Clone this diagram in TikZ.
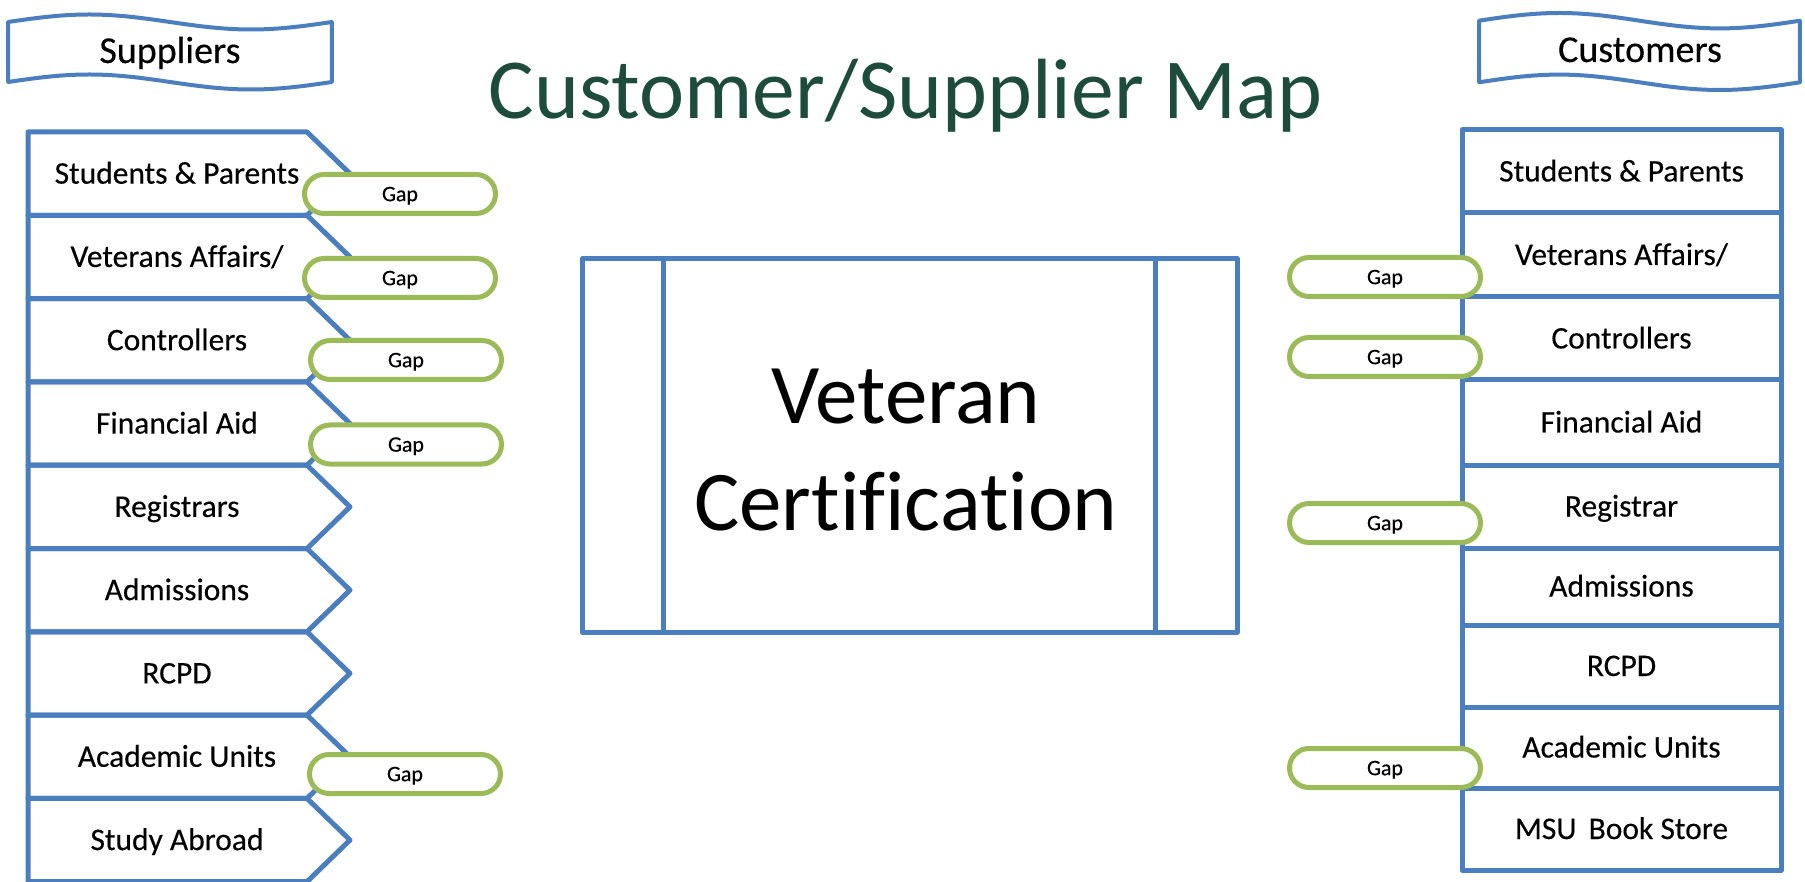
\documentclass[tikz,border=0pt]{standalone}
\usepackage{fontspec}
\usetikzlibrary{shapes.misc}
\setmainfont{Carlito}[Ligatures=NoCommon]
\newfontfamily\labelfont{Carlito}[Ligatures=NoCommon,FakeBold=0.3]
\definecolor{boxblue}{RGB}{74,126,190}
\definecolor{gapgreen}{RGB}{155,187,89}
\definecolor{titlegreen}{RGB}{30,76,60}
\begin{document}
\begin{tikzpicture}[x=1pt,y=-1pt,
  blueline/.style={draw=boxblue, line width=5pt, line join=round},
  bannerline/.style={draw=boxblue, line width=4pt, line join=round},
  lbl/.style={font=\labelfont\fontsize{31.5}{36}\selectfont, anchor=base, inner sep=0pt},
  bannertext/.style={font=\labelfont\fontsize{38}{44}\selectfont, anchor=base, inner sep=0pt},
  bigtext/.style={font=\fontsize{85}{100}\selectfont, anchor=base, inner sep=0pt},
  gapoval/.style={rounded rectangle, rounded rectangle arc length=180,
    draw=gapgreen, line width=5pt, fill=white,
    minimum width=191pt, minimum height=39pt, inner sep=0pt, text depth=0pt,
    font=\labelfont\fontsize{22}{26}\selectfont}
]
\useasboundingbox (0,0) rectangle (1805,882);

% banners
\draw[bannerline] plot[domain=0:1,samples=60,smooth] ({8+324*\x},{22-7.5*sin(360*\x)})
  -- plot[domain=1:0,samples=60,smooth] ({8+324*\x},{82-7.5*sin(360*\x)}) -- cycle;
\node[bannertext] (suppliers) at (170,63) {Suppliers};
\draw[bannerline] plot[domain=0:1,samples=60,smooth] ({1479+321*\x},{20.7-7.7*sin(360*\x)})
  -- plot[domain=1:0,samples=60,smooth] ({1479+321*\x},{82.3-7.7*sin(360*\x)}) -- cycle;
\node[bannertext] (customers) at (1640,62) {Customers};

% title
\node[anchor=base, inner sep=0pt, font=\fontsize{85.5}{100}\selectfont, text=titlegreen]
  (title) at (905.5,119) {Customer/Supplier Map};

% supplier chevrons
\foreach \lab [count=\i from 0] in {Students \& Parents, {Veterans Affairs/}, Controllers,
    Financial Aid, Registrars, Admissions, RCPD, Academic Units, Study Abroad} {
  \pgfmathsetmacro\t{132+83.3*\i}
  \pgfmathsetmacro\b{\t+83.3}
  \pgfmathsetmacro\m{\t+41.65}
  \draw[blueline] (28,\t) -- (307,\t) -- (350,\m) -- (307,\b) -- (28,\b) -- cycle;
  \node[lbl] (sup\i) at (177,\m+10) {\lab};
}

% customer boxes
\foreach \t/\b/\lab [count=\i from 0] in {130/213/{Students \& Parents}, 213/297/{Veterans Affairs/},
    297/380/{Controllers}, 380/465/{Financial Aid}, 465/548/{Registrar}, 548/625/{Admissions},
    625/707/{RCPD}, 707/788/{Academic Units}, 788/870/{MSU\hspace{5pt} Book Store}} {
  \draw[blueline] (1462,\t) rectangle (1781,\b);
  \node[lbl] (cus\i) at (1621.5,{(\t+\b)/2+10}) {\lab};
}

% process box
\node[blueline, minimum width=655pt, minimum height=373pt, inner sep=0pt] (proc) at (909.5,445.5) {};
\draw[blueline] (663,259) -- (663,632);
\draw[blueline] (1155.5,259) -- (1155.5,632);
\node[bigtext] (vet) at (906,424) {Veteran};
\node[bigtext] (cert) at (906,530) {Certification};

% gaps on the supplier side
\node[gapoval] (sg1) at (400,194) {Gap};
\node[gapoval] (sg2) at (400,278) {Gap};
\node[gapoval] (sg3) at (406,360) {Gap};
\node[gapoval] (sg4) at (406,444.5) {Gap};
\node[gapoval] (sg5) at (405,774) {Gap};

% gaps on the customer side
\node[gapoval] (cg1) at (1385,277) {Gap};
\node[gapoval] (cg2) at (1385,357) {Gap};
\node[gapoval] (cg3) at (1385,523) {Gap};
\node[gapoval] (cg4) at (1385,768) {Gap};
\end{tikzpicture}
\end{document}
